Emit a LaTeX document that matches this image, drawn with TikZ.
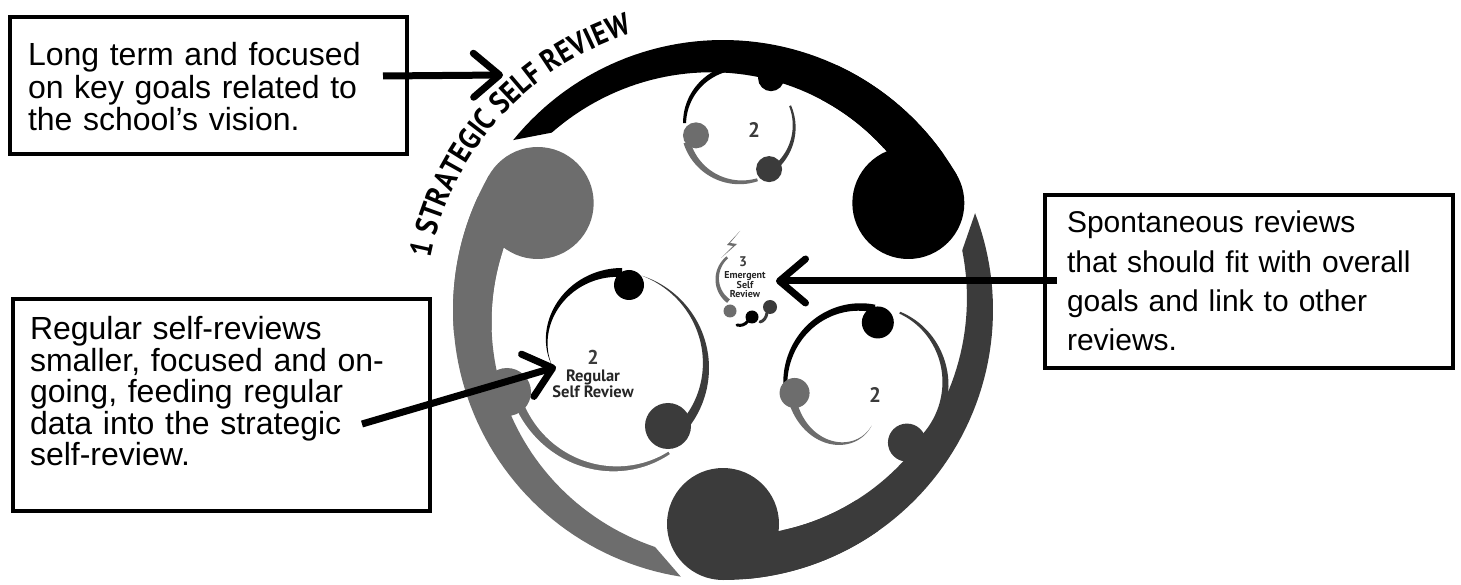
\documentclass[tikz,border=0pt]{standalone}
\usepackage{fontspec}
\setmainfont{Liberation Sans}
\newfontfamily\lab{PT Sans}
\newfontfamily\arclab[FakeStretch=0.88]{PT Sans}
\usetikzlibrary{arrows.meta,decorations.text}
\definecolor{cgray}{HTML}{6D6D6D}
\definecolor{cdark}{HTML}{3B3B3B}
\definecolor{ctext}{HTML}{262626}
% #1 style, #2 a1, #3 a2, #4 r1, #5 r2, #6 exponent, #7 t1, #8 t2, #9 inner end offset
\newcommand\Tail[9]{%
  \pgfmathsetmacro\tailinend{#3-#9}%
  \fill[#1] plot[domain=#2:#3,samples=60,variable=\ang]
   ({(#4+(#5-#4)*(((\ang-#2)/(#3-#2)+0.00001)^#6))*cos(\ang)},
    {(#4+(#5-#4)*(((\ang-#2)/(#3-#2)+0.00001)^#6))*sin(\ang)})
   -- plot[domain=\tailinend:#2,samples=60,variable=\ang]
   ({(#4+(#5-#4)*(((\ang-#2)/(#3-#2)+0.00001)^#6)-(#7+(#8-#7)*(\ang-#2)/(#3-#2)))*cos(\ang)},
    {(#4+(#5-#4)*(((\ang-#2)/(#3-#2)+0.00001)^#6)-(#7+(#8-#7)*(\ang-#2)/(#3-#2)))*sin(\ang)})
   -- cycle;}
\begin{document}
\begin{tikzpicture}[x=1pt,y=1pt,
  box/.style={draw=black,line width=4pt,fill=white,inner xsep=0pt,inner ysep=0pt,
    outer sep=0pt,anchor=north west,align=left},
  arr/.style={line width=7pt,-{Straight Barb[length=26pt,width=44pt,round]}},
  num/.style={font=\lab\bfseries\fontsize{21}{21}\selectfont,text=cdark,inner sep=0pt},
  sublab/.style={font=\lab\bfseries\fontsize{16.5}{16}\selectfont,text=ctext,inner sep=0pt,align=center},
  emlab/.style={font=\lab\bfseries\fontsize{10}{9.5}\selectfont,text=ctext,inner sep=0pt,align=center}]
\useasboundingbox (0,0) rectangle (1461,584);
\fill[white] (0,0) rectangle (1461,584);

% ---------- big ring ----------
\begin{scope}[shift={(723,274)}]
  \Tail{black}{30}{141}{270}{270}{1}{45}{22}{7}
  \Tail{cgray}{150}{261}{270}{270}{1}{45}{22}{7}
  \Tail{cdark}{270}{381}{270}{270}{1}{45}{22}{7}
  \fill[white] (30:214) circle (60);
  \fill[black] (30:214) circle (56);
  \Tail{black}{30}{65}{270}{270}{1}{45}{37.75}{0}
  \fill[white] (150:214) circle (60);
  \fill[cgray] (150:214) circle (56);
  \Tail{cgray}{150}{185}{270}{270}{1}{45}{37.75}{0}
  \fill[white] (270:214) circle (60);
  \fill[cdark] (270:214) circle (56);
  \Tail{cdark}{270}{305}{270}{270}{1}{45}{37.75}{0}
\end{scope}
\begin{scope}[shift={(719,269.5)}]
  \path[decorate,decoration={text along path,text align=left,
    text={|\arclab\bfseries\fontsize{31}{31}\selectfont|1 STRATEGIC SELF REVIEW}}]
    (169:294) arc[start angle=169,end angle=92,radius=294];
\end{scope}

% ---------- top cycle ----------
\begin{scope}[shift={(740,458)}]
  \Tail{black}{61}{177}{64}{57}{1}{7}{3}{0}
  \Tail{cgray}{197}{288}{59}{58}{1}{7}{3}{0}
  \Tail{cdark}{306}{382}{57}{55}{1}{5}{2}{0}
  \fill[black] (57:57) circle (13);
  \fill[cgray] (192:45) circle (13);
  \fill[cdark] (304:52) circle (13);
\end{scope}
\node[num] (n2top) at (754,454) {2};

% ---------- lower right cycle ----------
\begin{scope}[shift={(865,206)}]
  \Tail{black}{82}{185}{74}{82}{1}{8}{4}{0}
  \Tail{cgray}{198}{278}{80}{48}{3}{8}{0}{0}
  \Tail{cdark}{308}{422}{90}{75}{1}{9}{2}{0}
  \fill[black] (77:57) circle (16);
  \fill[cgray] (192:72) circle (15);
  \fill[cdark] (303:77) circle (19);
\end{scope}
\node[num] (n2right) at (875,189) {2};

% ---------- lower left cycle ----------
\begin{scope}[shift={(622,216)}]
  \Tail{black}{90}{178}{100}{70}{2}{9}{0}{0}
  \Tail{cgray,draw=white,line width=3pt}{200}{300}{115}{100}{1}{12}{6}{0}
\end{scope}
\begin{scope}[shift={(612,216)}]
  \Tail{cdark}{305}{432}{97}{97}{1}{11}{0}{0}
\end{scope}
\fill[black] (629,299) circle (15);
\fill[cgray] (507,192) circle (24);
\fill[cdark] (668,158) circle (23);
\node[num,font=\lab\bfseries\fontsize{20}{20}\selectfont] (n2left) at (593,227) {2};
\node[sublab] (reg) at (593,200) {Regular\\Self Review};

% ---------- emergent ----------
\begin{scope}[shift={(745,304)}]
  \Tail{cgray}{128}{232}{30}{29}{1}{2.5}{4.5}{0}
\end{scope}
\fill[cgray] (740,353) -- (727,339) -- (733,338) -- (721,326) -- (737,340) -- (730,341) -- cycle;
\fill[cgray] (730,273) circle (6.5);
\fill[black] (752,267) circle (6.5);
\fill[cdark] (770,277) circle (7);
\draw[black,line width=3pt,line cap=round] (748,263) .. controls (745,259) and (741,258) .. (737,259);
\draw[cdark,line width=3pt,line cap=round] (767,271) .. controls (766,266) and (764,263) .. (760,262);
\node[num,font=\lab\bfseries\fontsize{14}{14}\selectfont] (n3) at (743,322) {3};
\node[emlab] (em) at (745,299) {Emergent\\Self\\Review};

% ---------- boxes ----------
\node[box,text width=397pt,text height=49pt,text depth=88pt,
  font=\fontsize{32}{32.5}\selectfont] (b1) at (10,567)
  {\leftskip=18pt Long term and focused\\on key goals related to\\the school’s vision.\par};
\node[box,text width=417pt,text height=41pt,text depth=171pt,
  font=\fontsize{32}{31.5}\selectfont] (b2) at (13,285)
  {\leftskip=17pt Regular self-reviews\\smaller, focused and on-\\going, feeding regular\\data into the strategic\\self-review.\par};
\node[box,text width=408pt,text height=38pt,text depth=135pt,
  font=\fontsize{30}{39.3}\selectfont] (b3) at (1045,389)
  {\leftskip=22pt Spontaneous reviews\\that should fit with overall\\goals and link to other\\reviews.\par};

% ---------- arrows ----------
\coordinate (a1s) at (383,508);
\coordinate (a1t) at (503,509);
\coordinate (a2s) at (362,160);
\coordinate (a2t) at (556,217);
\coordinate (a3s) at (1057,303);
\coordinate (a3t) at (776,303);
\draw[arr] (a1s) -- (a1t);
\draw[arr] (a2s) -- (a2t);
\draw[arr] (a3s) -- (a3t);
\end{tikzpicture}
\end{document}
